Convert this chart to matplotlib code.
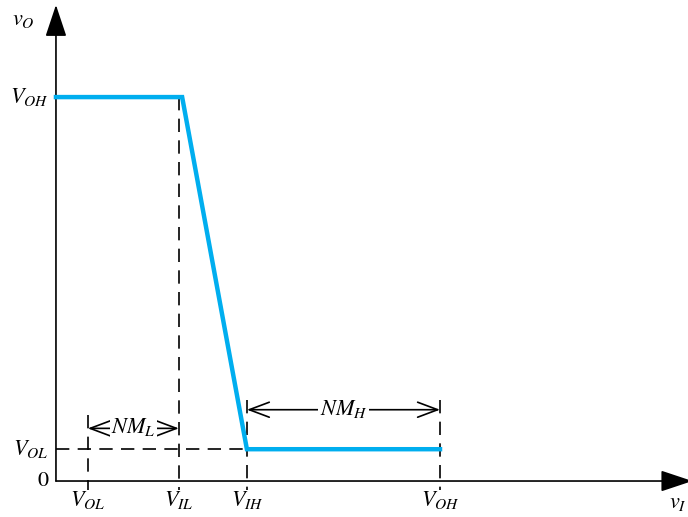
import matplotlib.pyplot as plt

plt.rcParams['mathtext.fontset'] = 'stix'
plt.rcParams['font.family'] = 'STIXGeneral'

# transfer characteristic of the inverter (arbitrary units)
V_OH = 3.5
V_OL = 0.29
V_IL = 1.12
V_IH = 1.74
knee = 1.15            # where the blue curve leaves V_OH
v_in = [0.0, knee, V_IH, V_OH]
v_out = [V_OH, V_OH, V_OL, V_OL]

x_ticks = [V_OL, V_IL, V_IH, V_OH]
x_labels = [r'$V_{OL}$', r'$V_{IL}$', r'$V_{IH}$', r'$V_{OH}$']
y_ticks = [0, V_OL, V_OH]
y_labels = ['0', r'$V_{OL}$', r'$V_{OH}$']

fig = plt.figure(figsize=(6.88, 5.17), dpi=100)
ax = fig.add_axes([0, 0, 1, 1])
ax.set_xlim(-0.51, 5.76)
ax.set_ylim(-0.328, 4.385)
ax.axis('off')

blue = '#00aeef'
fs = 16

# axes with arrow heads
ax.annotate('', xy=(0, 4.34), xytext=(0, 0), annotation_clip=False,
            arrowprops=dict(arrowstyle='-|>,head_length=0.9,head_width=0.3', color='black',
                            lw=1.2, mutation_scale=22, shrinkA=0, shrinkB=0))
ax.annotate('', xy=(5.8, 0), xytext=(0, 0), annotation_clip=False,
            arrowprops=dict(arrowstyle='-|>,head_length=0.9,head_width=0.3', color='black',
                            lw=1.2, mutation_scale=22, shrinkA=0, shrinkB=0))
ax.text(-0.3, 4.2, r'$v_O$', fontsize=fs, ha='center', va='center')
ax.text(5.745, -0.2, r'$v_I$', fontsize=fs, ha='right', va='center')

# dashed guide lines
dash = dict(color='black', lw=1.2, ls=(0, (8, 5)))
ax.plot([V_IL, V_IL], [V_OH, -0.08], **dash)
ax.plot([V_OL, V_OL], [0.60, -0.08], **dash)
ax.plot([V_IH, V_IH], [0.74, -0.08], **dash)
ax.plot([V_OH, V_OH], [0.74, -0.08], **dash)
ax.plot([0, V_IH], [V_OL, V_OL], **dash)

# the curve
ax.plot(v_in, v_out, color=blue, lw=3.2, solid_joinstyle='miter', zorder=5)

# noise margins
nm_arrow = dict(arrowstyle='<->,head_length=0.8,head_width=0.3', color='black', lw=1.2,
                mutation_scale=18, shrinkA=0, shrinkB=0)
ax.annotate('', xy=(V_OL, 0.48), xytext=(V_IL, 0.48), arrowprops=nm_arrow)
ax.text((V_OL + V_IL) / 2, 0.49, r'$NM_L$', fontsize=fs, ha='center', va='center',
        bbox=dict(facecolor='white', edgecolor='none', pad=1))
ax.annotate('', xy=(V_IH, 0.65), xytext=(V_OH, 0.65), arrowprops=nm_arrow)
ax.text((V_IH + V_OH) / 2, 0.66, r'$NM_H$', fontsize=fs, ha='center', va='center',
        bbox=dict(facecolor='white', edgecolor='none', pad=1))

# tick labels
for x, lab in zip(x_ticks, x_labels):
    ax.text(x, -0.17, lab, fontsize=fs, ha='center', va='center')
for y, lab in zip(y_ticks, y_labels):
    ax.text(-0.07, y, lab, fontsize=fs, ha='right', va='center')

fig.savefig('out.png', dpi=100)
